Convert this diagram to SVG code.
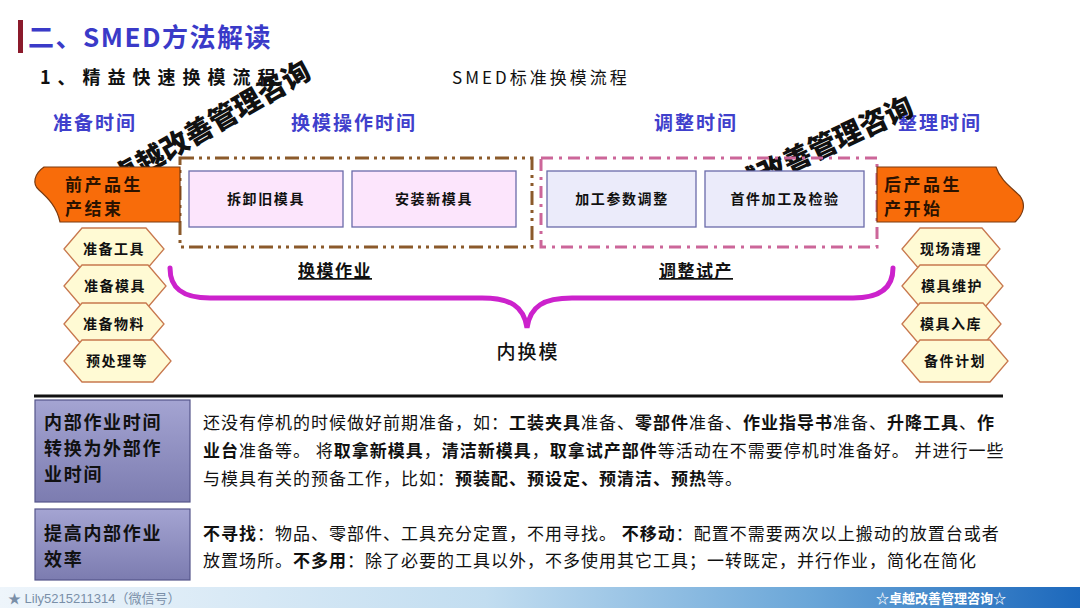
<svg xmlns="http://www.w3.org/2000/svg" width="1080" height="608" viewBox="0 0 1080 608">
<defs>
<style>
text{font-family:"Noto Sans CJK SC","Noto Sans",sans-serif;}
.title{font-size:26px;font-weight:bold;fill:#3A3AC8;letter-spacing:1.5px;}
.sub{font-size:18px;font-weight:bold;fill:#111;letter-spacing:7px;}
.std{font-size:17px;fill:#111;letter-spacing:3px;}
.phase{font-size:19px;font-weight:bold;fill:#4040CC;letter-spacing:2px;text-anchor:middle;}
.wm{font-size:28px;font-weight:900;fill:#111;text-anchor:middle;}
.orange{fill:#F86C0A;stroke:#7A3A10;stroke-width:1.2;}
.otext{font-size:17px;font-weight:bold;fill:#2A1200;letter-spacing:2.5px;}
.hex{fill:#FFFAD4;stroke:#C8784E;stroke-width:1.3;}
.htext{font-size:14px;font-weight:bold;fill:#111;letter-spacing:1.5px;text-anchor:middle;}
.boxp{fill:#FCE5FC;stroke:#6A6AAA;stroke-width:1.3;}
.boxl{fill:#EBEBFA;stroke:#6A6AAA;stroke-width:1.3;}
.btext{font-size:14px;font-weight:bold;fill:#111;letter-spacing:1.6px;text-anchor:middle;}
.dashb{fill:none;stroke:#8B5A2B;stroke-width:3;stroke-dasharray:14 5 3 5 3 5;}
.dashp{fill:none;stroke:#CC6699;stroke-width:3;stroke-dasharray:12 6 3 6;}
.ul{font-size:17px;font-weight:bold;fill:#111;letter-spacing:1.5px;text-anchor:middle;text-decoration:underline;}
.brace{fill:none;stroke:#CC22CC;stroke-width:5;stroke-linecap:round;}
.inner{font-size:19px;fill:#111;letter-spacing:2px;text-anchor:middle;font-weight:500;}
.lbl{fill:url(#pg);stroke:#55558A;stroke-width:1.2;}
.ltext{font-size:18px;font-weight:bold;fill:#111;letter-spacing:1.7px;}
.para{font-size:17px;fill:#111;letter-spacing:1px;}
.b{font-weight:bold;}
.foot1{font-size:13px;fill:#7A8FA8;font-family:"Liberation Sans","Noto Sans CJK SC",sans-serif;}
.foot2{font-size:13px;fill:#FFFFFF;font-weight:bold;text-anchor:middle;}
</style>
<linearGradient id="pg" x1="0" y1="0" x2="0" y2="1">
<stop offset="0" stop-color="#A4A4D2"/>
<stop offset="1" stop-color="#7C7CB0"/>
</linearGradient>
<linearGradient id="fg" x1="0" y1="0" x2="1" y2="0">
<stop offset="0" stop-color="#EEF5FB"/>
<stop offset="0.45" stop-color="#C2DDF0"/>
<stop offset="0.75" stop-color="#6AA6D8"/>
<stop offset="1" stop-color="#1C68BC"/>
</linearGradient>
</defs>
<rect width="1080" height="608" fill="#FFFFFF"/>

<g id="header">
<rect x="18" y="20" width="5" height="33" fill="#8B1A2B"/>
<text class="title" x="28" y="47">二、SMED方法解读</text>
<text class="sub" x="40" y="84">1、精益快速换模流程</text>
<text class="std" x="452" y="84">SMED标准换模流程</text>
</g>

<g id="phases">
<text class="phase" x="95" y="130">准备时间</text>
<text class="phase" x="354" y="130">换模操作时间</text>
<text class="phase" x="696" y="130">调整时间</text>
<text class="phase" x="940" y="130">整理时间</text>
</g>

<g id="watermarks">
<text class="wm" transform="translate(211,124) rotate(-30)" y="10">卓越改善管理咨询</text>
<text class="wm" transform="translate(810,152) rotate(-25)" y="10">卓越改善管理咨询</text>
</g>

<g id="connectors">
<path class="brace" d="M170,268 C170,288 182,298 210,298 L482,298 C510,298 524,306 527,328 C530,306 544,298 572,298 L853,298 C880,298 893,288 893,268"/>
</g>

<g id="group-changeover">
<rect class="dashb" x="180" y="158" width="352" height="89"/>
</g>
<g id="group-adjust">
<rect class="dashp" x="541" y="158" width="336" height="89"/>
</g>

<g id="prev-end">
<path class="orange" d="M44,167 L180,167 L180,222 L60,222 C57,207 48,198 39,190 C32,184 34,174 44,167 Z"/>
<text class="otext" x="65" y="191">前产品生</text>
<text class="otext" x="65" y="215">产结束</text>
</g>

<g id="next-start">
<path class="orange" d="M877,167 L996,167 C1000,180 1012,188 1020,196 C1026,204 1024,214 1015,222 L877,222 Z"/>
<text class="otext" x="884" y="191">后产品生</text>
<text class="otext" x="884" y="215">产开始</text>
</g>

<g id="remove-old">
<rect class="boxp" x="189" y="171" width="154" height="56"/>
<text class="btext" x="266" y="204">拆卸旧模具</text>
</g>
<g id="install-new">
<rect class="boxp" x="352" y="171" width="164" height="56"/>
<text class="btext" x="434" y="204">安装新模具</text>
</g>
<g id="param-adjust">
<rect class="boxl" x="547" y="171" width="149" height="56"/>
<text class="btext" x="622" y="204">加工参数调整</text>
</g>
<g id="first-piece">
<rect class="boxl" x="705" y="171" width="159" height="56"/>
<text class="btext" x="785" y="204">首件加工及检验</text>
</g>

<g id="labels">
<text class="ul" x="335" y="277">换模作业</text>
<text class="ul" x="696" y="277">调整试产</text>
<text class="inner" x="528" y="359">内换模</text>
</g>

<g id="prep-tools">
<path class="hex" d="M64,249 L82,228 L146,228 L164,249 L146,270 L82,270 Z"/>
<text class="htext" x="114" y="254">准备工具</text>
</g>
<g id="prep-mold">
<path class="hex" d="M64,286 L82,265 L148,265 L166,286 L148,307 L82,307 Z"/>
<text class="htext" x="115" y="291">准备模具</text>
</g>
<g id="prep-material">
<path class="hex" d="M64,324 L82,303 L146,303 L164,324 L146,345 L82,345 Z"/>
<text class="htext" x="114" y="329">准备物料</text>
</g>
<g id="pretreat">
<path class="hex" d="M64,361 L82,340 L153,340 L171,361 L153,382 L82,382 Z"/>
<text class="htext" x="117" y="366">预处理等</text>
</g>

<g id="site-clean">
<path class="hex" d="M902,249 L920,228 L982,228 L1000,249 L982,270 L920,270 Z"/>
<text class="htext" x="951" y="254">现场清理</text>
</g>
<g id="mold-maint">
<path class="hex" d="M902,286 L920,265 L985,265 L1003,286 L985,307 L920,307 Z"/>
<text class="htext" x="952" y="291">模具维护</text>
</g>
<g id="mold-store">
<path class="hex" d="M902,324 L920,303 L983,303 L1001,324 L983,345 L920,345 Z"/>
<text class="htext" x="951" y="329">模具入库</text>
</g>
<g id="spare-plan">
<path class="hex" d="M902,361 L920,340 L990,340 L1008,361 L990,382 L920,382 Z"/>
<text class="htext" x="955" y="366">备件计划</text>
</g>

<line x1="34" y1="396" x2="1003" y2="396" stroke="#111" stroke-width="3"/>

<g id="label-external">
<rect class="lbl" x="35" y="400" width="155" height="102"/>
<text class="ltext" x="44" y="429">内部作业时间</text>
<text class="ltext" x="44" y="455">转换为外部作</text>
<text class="ltext" x="44" y="481">业时间</text>
</g>
<g id="text-external">
<text class="para" x="203" y="429">还没有停机的时候做好前期准备，如：<tspan class="b">工装夹具</tspan>准备、<tspan class="b">零部件</tspan>准备、<tspan class="b">作业指导书</tspan>准备、<tspan class="b">升降工具</tspan>、<tspan class="b">作</tspan></text>
<text class="para" x="203" y="457"><tspan class="b">业台</tspan>准备等。 将<tspan class="b">取拿新模具</tspan>，<tspan class="b">清洁新模具</tspan>，<tspan class="b">取拿试产部件</tspan>等活动在不需要停机时准备好。 并进行一些</text>
<text class="para" x="203" y="485">与模具有关的预备工作，比如：<tspan class="b">预装配、预设定、预清洁、预热</tspan>等。</text>
</g>

<g id="label-efficiency">
<rect class="lbl" x="35" y="509" width="155" height="71"/>
<text class="ltext" x="44" y="540">提高内部作业</text>
<text class="ltext" x="44" y="566">效率</text>
</g>
<g id="text-efficiency">
<text class="para" x="203" y="540"><tspan class="b">不寻找</tspan>：物品、零部件、工具充分定置，不用寻找。 <tspan class="b">不移动</tspan>：配置不需要两次以上搬动的放置台或者</text>
<text class="para" x="203" y="567">放置场所。<tspan class="b">不多用</tspan>：除了必要的工具以外，不多使用其它工具；一转既定，并行作业，简化在简化</text>
</g>

<g id="footer">
<rect x="0" y="587" width="1080" height="21" fill="url(#fg)"/>
<text class="foot1" x="8" y="603">★ Lily5215211314（微信号）</text>
<text class="foot2" x="941" y="603">☆卓越改善管理咨询☆</text>
</g>
</svg>
